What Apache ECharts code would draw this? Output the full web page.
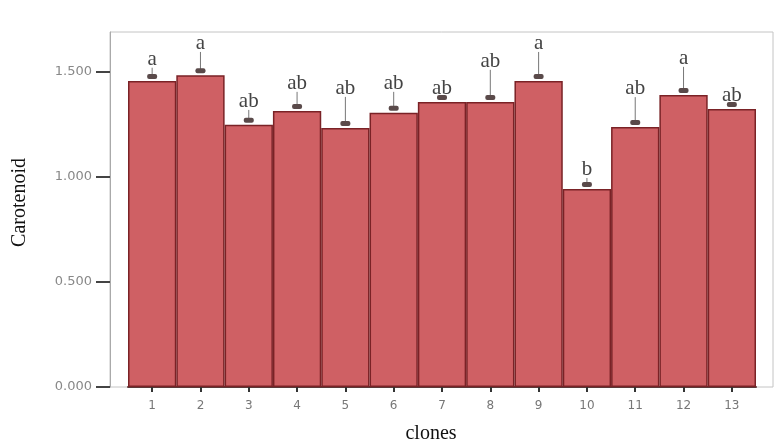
<!DOCTYPE html>
<html>
<head>
<meta charset="utf-8">
<script src="https://cdn.jsdelivr.net/npm/echarts@6/dist/echarts.min.js"></script>
<style>html,body{margin:0;padding:0;background:#fff;}#c{width:774px;height:444px;}</style>
</head>
<body>
<div id="c"></div>
<script>
const categories = ['1','2','3','4','5','6','7','8','9','10','11','12','13'];
const means = [1.457, 1.484, 1.248, 1.314, 1.233, 1.305, 1.357, 1.357, 1.457, 0.943, 1.238, 1.390, 1.324];
const upper = [1.52, 1.595, 1.319, 1.405, 1.381, 1.405, 1.38, 1.51, 1.595, 0.995, 1.38, 1.524, 1.33];
const letters = ['a','a','ab','ab','ab','ab','ab','ab','a','b','ab','a','ab'];
const yTicks = [0, 0.5, 1.0, 1.5];
const yMax = 1.69;

const chart = echarts.init(document.getElementById('c'));
chart.setOption({
  animation: false,
  backgroundColor: '#fff',
  grid: [
    {left: 110, right: 1, top: 32, bottom: 57, show: true, borderColor: '#c4c4c4', borderWidth: 1,
     outerBoundsMode: 'none', containLabel: false},
    {left: 128, right: 18, top: 32, bottom: 57, outerBoundsMode: 'none', containLabel: false}
  ],
  xAxis: [
    {gridIndex: 0, type: 'value', show: false, min: 0, max: 1},
    {gridIndex: 1, type: 'category', data: categories,
     axisLine: {show: true, lineStyle: {color: '#5a3a3a', width: 2}},
     axisTick: {show: true, alignWithLabel: true, length: 5, lineStyle: {color: '#333', width: 2}},
     axisLabel: {color: '#777', fontSize: 12, fontFamily: 'DejaVu Sans', margin: 13},
     name: 'clones', nameLocation: 'middle', nameGap: 37,
     nameTextStyle: {fontFamily: 'Liberation Serif', fontSize: 20, color: '#111', padding: [0, 22, 0, 0]}}
  ],
  yAxis: [
    {gridIndex: 0, type: 'value', min: 0, max: yMax, interval: 0.5,
     axisLine: {show: true, lineStyle: {color: '#aaa', width: 1}},
     axisTick: {show: true, length: 14, inside: false, lineStyle: {color: '#444', width: 2},
                customValues: yTicks},
     axisLabel: {color: '#888', fontSize: 13, fontFamily: 'DejaVu Sans', margin: 18,
                 customValues: yTicks, formatter: v => v.toFixed(3)},
     splitLine: {show: false},
     name: 'Carotenoid', nameLocation: 'middle', nameGap: 80, nameRotate: 90,
     nameTextStyle: {fontFamily: 'Liberation Serif', fontSize: 20, color: '#111', padding: [0, 0, 0, 14]}},
    {gridIndex: 1, type: 'value', min: 0, max: yMax, show: false, splitLine: {show: false}}
  ],
  series: [
    {type: 'bar', xAxisIndex: 1, yAxisIndex: 1, data: means, barCategoryGap: '0%',
     itemStyle: {color: '#cf6064', borderColor: '#7a2226', borderWidth: 1.5}},
    {type: 'custom', xAxisIndex: 1, yAxisIndex: 1, z: 5,
     data: means.map((m, i) => [i, m, upper[i]]),
     renderItem: (params, api) => {
       const i = api.value(0);
       const p0 = api.coord([i, api.value(1)]);
       const p1 = api.coord([i, api.value(2)]);
       const capY = p0[1] - 5;
       const topY = Math.min(p1[1], capY);
       return {type: 'group', children: [
         {type: 'line', shape: {x1: p0[0], y1: capY, x2: p0[0], y2: topY},
          style: {stroke: '#777', lineWidth: 1}},
         {type: 'rect', shape: {x: p0[0] - 5, y: capY - 2, width: 10, height: 5, r: 2},
          style: {fill: '#5a4a4a'}},
         {type: 'text', x: p0[0], y: topY + 2,
          style: {text: letters[i], align: 'center', verticalAlign: 'bottom',
                  font: '21px "Liberation Serif"', fill: '#444'}}
       ]};
     }}
  ]
});
</script>
</body>
</html>
